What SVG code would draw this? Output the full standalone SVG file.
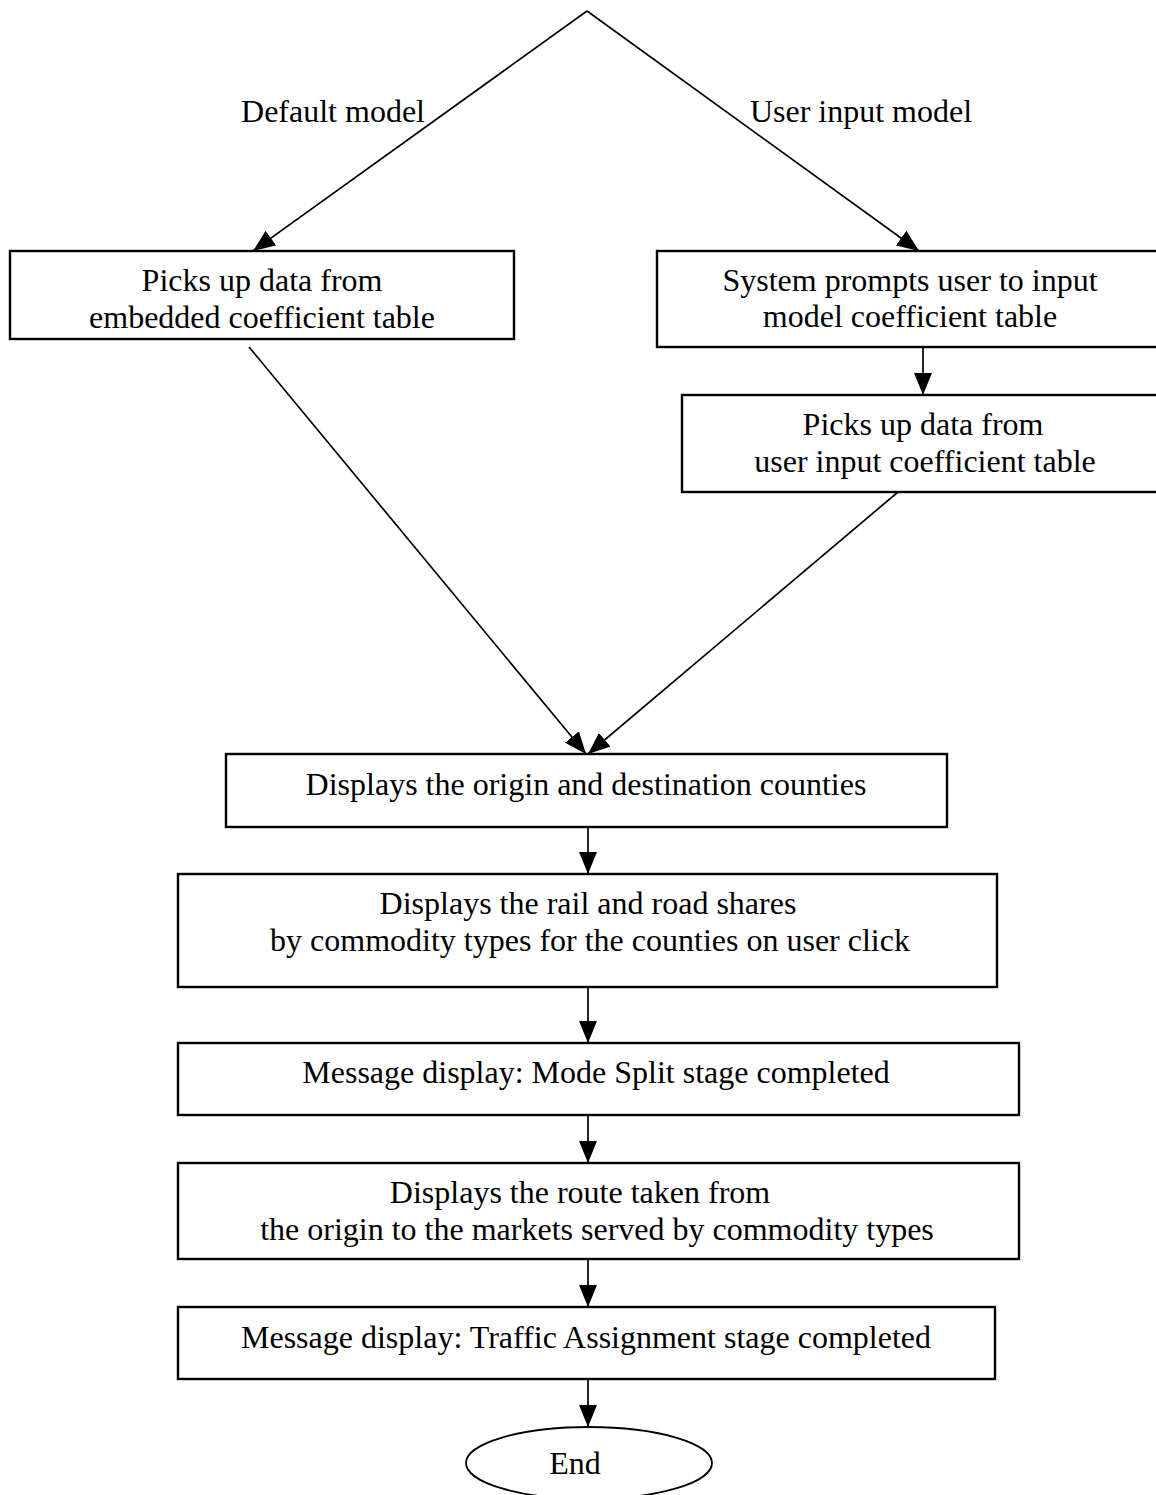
<svg xmlns="http://www.w3.org/2000/svg" width="1156" height="1495" viewBox="0 0 1156 1495">
<style>
.box{fill:#fff;stroke:#000;stroke-width:2.4}
.t{font-family:"Liberation Serif","Times New Roman",serif;font-size:32px;fill:#000;text-anchor:middle}
.c{fill:none;stroke:#000;stroke-width:1.7}
</style>
<defs>
<marker id="ah" markerUnits="userSpaceOnUse" markerWidth="22" markerHeight="18" refX="22" refY="9" orient="auto">
<path d="M0,0 L22,9 L0,18 z" fill="#000"/>
</marker>
</defs>
<rect width="1156" height="1495" fill="#fff"/>
<g id="connectors">
<line class="c" x1="587" y1="11" x2="253" y2="251" marker-end="url(#ah)"/>
<line class="c" x1="587" y1="11" x2="919" y2="251" marker-end="url(#ah)"/>
<line class="c" x1="923" y1="347" x2="923" y2="395" marker-end="url(#ah)"/>
<line class="c" x1="249" y1="347" x2="586" y2="754" marker-end="url(#ah)"/>
<line class="c" x1="898" y1="492" x2="588" y2="754" marker-end="url(#ah)"/>
<line class="c" x1="588" y1="827" x2="588" y2="874" marker-end="url(#ah)"/>
<line class="c" x1="588" y1="987" x2="588" y2="1043" marker-end="url(#ah)"/>
<line class="c" x1="588" y1="1115" x2="588" y2="1163" marker-end="url(#ah)"/>
<line class="c" x1="588" y1="1259" x2="588" y2="1307" marker-end="url(#ah)"/>
<line class="c" x1="588" y1="1379" x2="588" y2="1427" marker-end="url(#ah)"/>
<text class="t" x="333" y="122">Default model</text>
<text class="t" x="861" y="122">User input  model</text>
</g>
<g id="n_default">
<rect class="box" x="10" y="251" width="504" height="88"/>
<text class="t" x="262" y="291">Picks up data from</text>
<text class="t" x="262" y="328">embedded coefficient table</text>
</g>
<g id="n_prompt">
<rect class="box" x="657" y="251" width="510" height="96"/>
<text class="t" x="910" y="291">System prompts user to input</text>
<text class="t" x="910" y="327">model coefficient table</text>
</g>
<g id="n_userinput">
<rect class="box" x="682" y="395" width="490" height="97"/>
<text class="t" x="923" y="435">Picks up data from</text>
<text class="t" x="925" y="472">user input coefficient table</text>
</g>
<g id="n_counties">
<rect class="box" x="226" y="754" width="721" height="73"/>
<text class="t" x="586" y="795">Displays the origin and destination counties</text>
</g>
<g id="n_shares">
<rect class="box" x="178" y="874" width="819" height="113"/>
<text class="t" x="588" y="914">Displays the rail and road shares</text>
<text class="t" x="590" y="951">by commodity types for the counties on user click</text>
</g>
<g id="n_modesplit">
<rect class="box" x="178" y="1043" width="841" height="72"/>
<text class="t" x="596" y="1083">Message display: Mode Split stage completed</text>
</g>
<g id="n_route">
<rect class="box" x="178" y="1163" width="841" height="96"/>
<text class="t" x="580" y="1203">Displays the route taken from</text>
<text class="t" x="597" y="1240">the origin to the markets served by commodity types</text>
</g>
<g id="n_traffic">
<rect class="box" x="178" y="1307" width="817" height="72"/>
<text class="t" x="586" y="1348">Message display: Traffic Assignment stage completed</text>
</g>
<g id="n_end">
<ellipse cx="589" cy="1463" rx="123" ry="36" fill="#fff" stroke="#000" stroke-width="1.8"/>
<text class="t" x="575" y="1474">End</text>
</g>
</svg>
